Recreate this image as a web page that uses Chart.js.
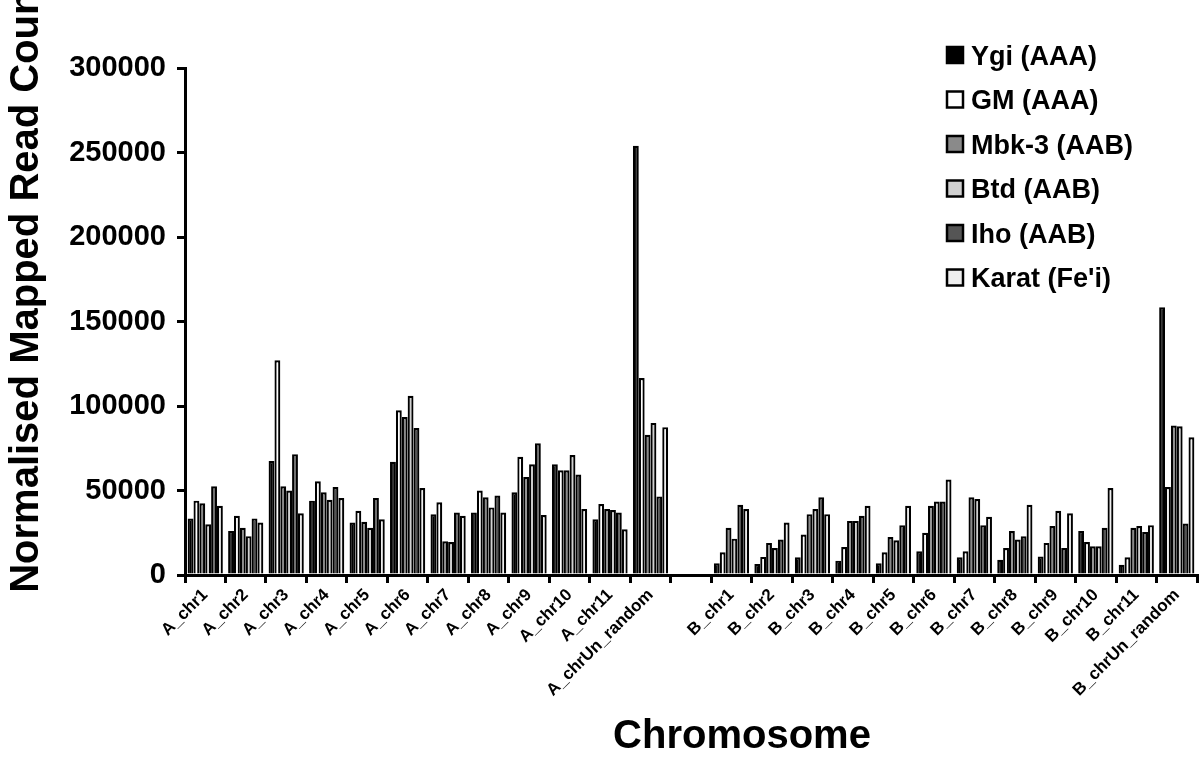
<!DOCTYPE html>
<html>
<head>
<meta charset="utf-8">
<script src="https://cdn.jsdelivr.net/npm/chart.js@4.4.1/dist/chart.umd.min.js"></script>
<style>
html,body{margin:0;padding:0;background:#fff;}
#wrap{width:1200px;height:757px;position:relative;}
</style>
</head>
<body>
<div id="wrap"><canvas id="c" width="1200" height="757"></canvas></div>
<script>
// ---- data ----
const categories = [
  'A_chr1','A_chr2','A_chr3','A_chr4','A_chr5','A_chr6','A_chr7','A_chr8','A_chr9','A_chr10','A_chr11','A_chrUn_random',
  '',
  'B_chr1','B_chr2','B_chr3','B_chr4','B_chr5','B_chr6','B_chr7','B_chr8','B_chr9','B_chr10','B_chr11','B_chrUn_random'
];
const seriesNames = ['Ygi (AAA)','GM (AAA)','Mbk-3 (AAB)','Btd (AAB)','Iho (AAB)',"Karat (Fe'i)"];
const ygi   = [33500,26000,67500,44000,31000,67000,36000,37000,49000,65500,33000,254000, null, 7000,6500,10500,8500,7000,14000,10500,9000,11000,26000,6000,158500];
const gm    = [44000,35000,127000,55500,38000,97500,43000,50000,70000,62000,42000,116500, null, 13500,10700,24000,16500,13500,25000,14000,16000,19000,19500,10500,52000];
const mbk3  = [42500,28000,52500,49000,31500,93500,20000,46000,58000,62000,39000,83000, null, 28000,19000,36000,32000,22500,41000,46000,26000,29000,17000,28000,88500];
const btd   = [30000,23000,50000,44500,28000,106000,19500,40000,65500,71000,38500,90000, null, 21500,16000,39000,32000,20500,43500,45000,21000,38000,17000,29000,88000];
const iho   = [52500,33500,71500,52000,45500,87000,37000,47000,78000,59500,37000,46500, null, 41500,21000,46000,35000,29500,43500,29500,23000,16000,28000,25500,30500];
const karat = [41000,31000,36500,45500,33000,51500,35000,37000,35500,39000,27000,87500, null, 39000,31000,36000,41000,41000,56500,34500,41500,36500,51500,29500,81500];
const yTickValues = [0,50000,100000,150000,200000,250000,300000];
const xTitle = 'Chromosome';
const yTitle = 'Normalised Mapped Read Count';

// ---- styles ----
const FONT = '"Liberation Sans", Arial, Helvetica, sans-serif';
const fills = ['#000000','#ffffff','#8a8a8a','#d0d0d0','#555555','#efefef'];
const seriesData = [ygi, gm, mbk3, btd, iho, karat];

const datasets = seriesNames.map((name, i) => ({
  label: name,
  data: seriesData[i],
  backgroundColor: fills[i],
  borderColor: '#000000',
  borderWidth: 2.2,
  borderSkipped: 'start',
  categoryPercentage: 0.87,
  barPercentage: 1.0
}));

const overlay = {
  id: 'overlay',
  afterDraw(chart) {
    const ctx = chart.ctx;
    ctx.save();
    ctx.fillStyle = '#000';
    // axis titles
    ctx.font = 'bold 40px ' + FONT;
    ctx.textAlign = 'center';
    ctx.textBaseline = 'alphabetic';
    ctx.fillText(xTitle, 742, 748);
    ctx.save();
    ctx.translate(38, 285);
    ctx.rotate(-Math.PI / 2);
    ctx.fillText(yTitle, 0, 0);
    ctx.restore();
    // legend
    ctx.font = 'bold 27px ' + FONT;
    ctx.textAlign = 'left';
    chart.data.datasets.forEach((ds, i) => {
      const yc = 55 + i * 44.5;
      ctx.fillStyle = ds.backgroundColor;
      ctx.fillRect(947, yc - 8, 16, 16);
      ctx.strokeStyle = '#000';
      ctx.lineWidth = 2.5;
      ctx.strokeRect(947, yc - 8, 16, 16);
      ctx.fillStyle = '#000';
      ctx.fillText(ds.label, 971, yc + 9.5);
    });
    ctx.restore();
  }
};

const bg = {
  id: 'bg',
  beforeDraw(chart) {
    const ctx = chart.ctx;
    ctx.save();
    ctx.fillStyle = '#fff';
    ctx.fillRect(0, 0, chart.width, chart.height);
    ctx.restore();
  }
};

new Chart(document.getElementById('c'), {
  type: 'bar',
  data: { labels: categories, datasets },
  options: {
    responsive: false,
    animation: false,
    devicePixelRatio: 1,
    layout: { padding: { top: 68, right: 3, bottom: 0, left: 0 } },
    plugins: { legend: { display: false }, tooltip: { enabled: false } },
    scales: {
      x: {
        offset: true,
        grid: { display: true, offset: true, drawOnChartArea: false, drawTicks: true, tickLength: 8, lineWidth: 3, color: '#000' },
        border: { display: true, width: 3, color: '#000' },
        ticks: {
          autoSkip: false, minRotation: 45, maxRotation: 45, padding: 2,
          color: '#000', font: { family: FONT, size: 17, weight: 'bold' }
        },
        afterFit(s) { s.height = 182; }
      },
      y: {
        min: 0, max: 300000,
        afterBuildTicks(s) { s.ticks = yTickValues.map(v => ({ value: v })); },
        grid: { display: true, drawOnChartArea: false, drawTicks: true, tickLength: 8, lineWidth: 3, color: '#000' },
        border: { display: true, width: 3, color: '#000' },
        ticks: {
          padding: 11, color: '#000',
          font: { family: FONT, size: 29, weight: 'bold' },
          callback: v => String(v)
        },
        afterFit(s) { s.width = 185; }
      }
    }
  },
  plugins: [bg, overlay]
});
</script>
</body>
</html>
